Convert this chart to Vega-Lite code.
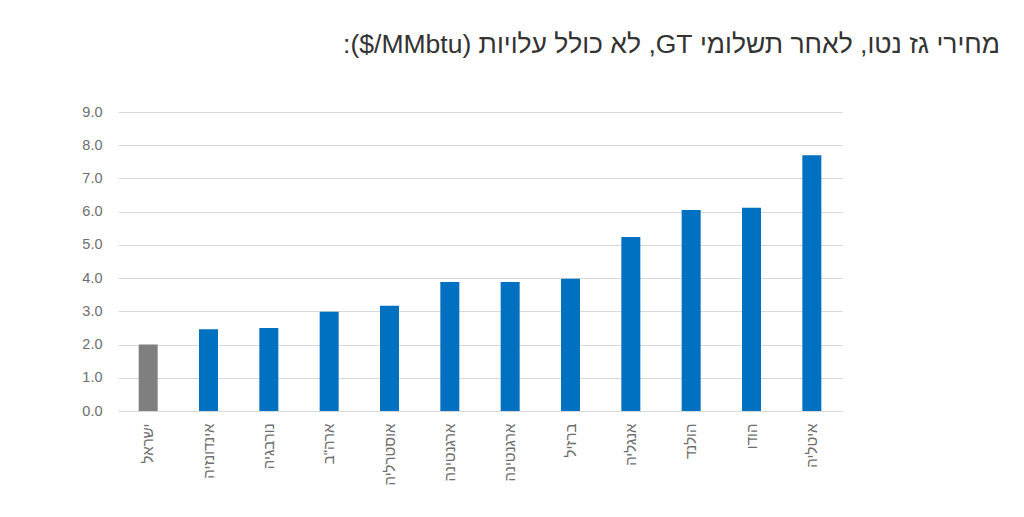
{
  "$schema": "https://vega.github.io/schema/vega-lite/v6.json",
  "width": 724,
  "height": 299,
  "autosize": {"type": "none"},
  "padding": {"left": 118, "top": 112, "right": 182, "bottom": 106},
  "background": "white",
  "title": {
    "text": "\u2067מחירי גז נטו, לאחר תשלומי GT, לא כולל עלויות \u2066($/MMbtu)\u2069:\u2069",
    "anchor": "end",
    "frame": "group",
    "dx": 158,
    "offset": 25,
    "baseline": "alphabetic",
    "font": "Liberation Sans",
    "fontSize": 26.5,
    "fontWeight": "normal",
    "color": "#333333"
  },
  "data": {
    "values": [
      {"country": "ישראל", "price": 2.0, "group": "israel"},
      {"country": "אינדונזיה", "price": 2.46, "group": "other"},
      {"country": "נורבגיה", "price": 2.5, "group": "other"},
      {"country": "ארה\"ב", "price": 2.99, "group": "other"},
      {"country": "אוסטרליה", "price": 3.17, "group": "other"},
      {"country": "ארגנטינה", "price": 3.88, "group": "other"},
      {"country": "ארגנטינה ", "price": 3.88, "group": "other"},
      {"country": "ברזיל", "price": 3.98, "group": "other"},
      {"country": "אנגליה", "price": 5.24, "group": "other"},
      {"country": "הולנד", "price": 6.05, "group": "other"},
      {"country": "הודו", "price": 6.12, "group": "other"},
      {"country": "איטליה", "price": 7.7, "group": "other"}
    ]
  },
  "mark": {"type": "bar", "size": 19},
  "encoding": {
    "x": {
      "field": "country",
      "type": "nominal",
      "sort": null,
      "title": null,
      "scale": {"paddingInner": 0.5, "paddingOuter": 0.25},
      "axis": {
        "labelAngle": -90,
        "labelFont": "Liberation Sans",
        "labelFontSize": 15,
        "labelColor": "#6E6E6E",
        "labelPadding": 12,
        "ticks": false,
        "domain": true,
        "domainColor": "#D9D9D9",
        "grid": false
      }
    },
    "y": {
      "field": "price",
      "type": "quantitative",
      "title": null,
      "scale": {"domain": [0, 9], "nice": false},
      "axis": {
        "values": [0, 1, 2, 3, 4, 5, 6, 7, 8, 9],
        "format": ".1f",
        "labelFont": "Liberation Sans",
        "labelFontSize": 14.5,
        "labelColor": "#6E6E6E",
        "labelPadding": 16,
        "ticks": false,
        "domain": false,
        "grid": true,
        "gridColor": "#D9D9D9",
        "gridWidth": 1
      }
    },
    "color": {
      "field": "group",
      "type": "nominal",
      "legend": null,
      "scale": {"domain": ["israel", "other"], "range": ["#7F7F7F", "#0070C0"]}
    }
  },
  "config": {"view": {"stroke": null}}
}
